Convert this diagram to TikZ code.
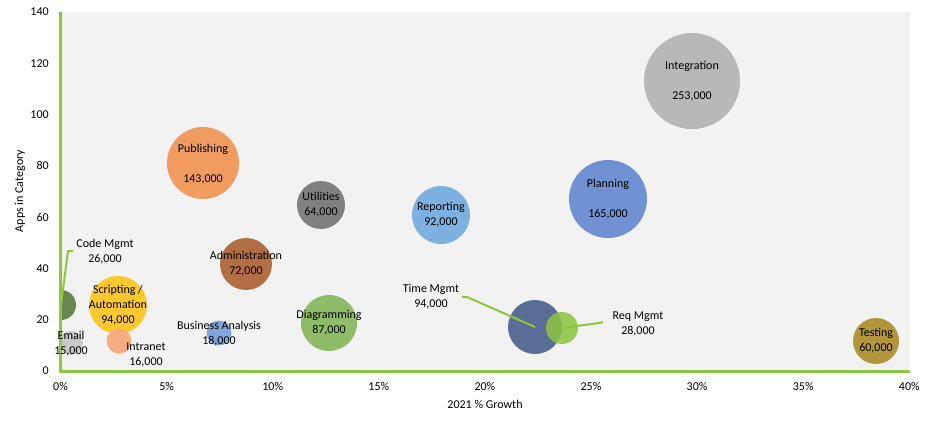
\documentclass[tikz,border=0pt]{standalone}
\usepackage{fontspec}
\setmainfont{Carlito}
\usetikzlibrary{calc}
\definecolor{axgreen}{RGB}{141,198,63}
\definecolor{plotbg}{RGB}{242,242,242}
\definecolor{cInt}{RGB}{184,184,184}
\definecolor{cPlan}{RGB}{113,146,210}
\definecolor{cRep}{RGB}{126,176,224}
\definecolor{cPub}{RGB}{240,155,96}
\definecolor{cUtil}{RGB}{128,128,128}
\definecolor{cAdm}{RGB}{178,110,68}
\definecolor{cDiag}{RGB}{143,188,104}
\definecolor{cBA}{RGB}{134,164,220}
\definecolor{cScr}{RGB}{252,200,48}
\definecolor{cIntr}{RGB}{244,172,128}
\definecolor{cCode}{RGB}{103,134,80}
\definecolor{cEmail}{RGB}{200,200,200}
\definecolor{cTime}{RGB}{88,110,150}
\definecolor{cReq}{RGB}{140,196,64}
\definecolor{cTest}{RGB}{178,150,60}
\newcommand\bub[5]{\node[bubble, minimum size=#4*1.5pt, fill=#5] (#1) at (#2,#3) {};}
\tikzset{
  bubble/.style={circle, inner sep=0pt, draw=none},
  lbl/.style={font=\fontsize{9}{11.25}\selectfont, align=center, inner sep=0pt, text=black},
  tick/.style={font=\fontsize{9}{11.25}\selectfont, inner sep=0pt, text=black},
  axisline/.style={draw=axgreen, line width=2.25pt},
  leader/.style={draw=axgreen, line width=1.5pt}
}
\begin{document}
\begin{tikzpicture}[x=0.75pt,y=-0.75pt]
\useasboundingbox (0,0) rectangle (931,424);
\fill[white] (0,0) rectangle (931,424);
\fill[plotbg] (60,12) rectangle (910,371);
% bubbles
\begin{scope}
\clip (60,12) rectangle (910,371);
\bub{int}{692}{81}{48}{cInt}
\bub{plan}{608}{199}{39}{cPlan}
\bub{rep}{441}{215}{29}{cRep}
\bub{pub}{203}{163}{36}{cPub}
\bub{util}{321}{205}{24}{cUtil}
\bub{adm}{246}{264}{26}{cAdm}
\bub{diag}{329}{323}{28}{cDiag}
\bub{ba}{219}{333}{12.5}{cBA}
\bub{scr}{118}{305}{29}{cScr}
\bub{intr}{119}{341}{12.5}{cIntr}
\bub{code}{61}{305}{15}{cCode}
\bub{email}{71}{343}{12}{cEmail}
\bub{time}{535}{327}{27}{cTime}
\node[bubble, minimum size=32*0.75pt, fill=cReq, fill opacity=0.85] (req) at (562,328) {};
\bub{test}{876}{341}{23}{cTest}
\end{scope}
% axes
\draw[axisline] (60.5,12) -- (60.5,371.5) -- (910,371.5);
% y tick labels
\foreach \v [count=\i from 0] in {0,20,40,60,80,100,120,140}
  \node[tick, anchor=east] (yt\i) at (49,{371-\i*51.29}) {\v};
% x tick labels
\foreach \v [count=\i from 0] in {0,5,10,15,20,25,30,35,40}
  \node[tick] (xt\i) at ({60.5+\i*106.1},386) {\v\%};
% axis titles
\node[tick] (xtitle) at (485,404) {2021 \% Growth};
\node[tick, rotate=90] (ytitle) at (20,191) {Apps in Category};
% labels
\node[lbl] (lint) at (692,81) {Integration\\[11.25pt]253,000};
\node[lbl] (lplan) at (608,199.5) {Planning\\[11.25pt]165,000};
\node[lbl] (lpub) at (203,164) {Publishing\\[11.25pt]143,000};
\node[lbl] (lutil) at (321,204.5) {Utilities\\64,000};
\node[lbl] (lrep) at (441,214.5) {Reporting\\92,000};
\node[lbl] (ladm) at (246,263.5) {Administration\\72,000};
\node[lbl] (ldiag) at (329,322.5) {Diagramming\\87,000};
\node[lbl] (lba) at (219,333.5) {Business Analysis\\18,000};
\node[lbl] (lscr) at (118,305.5) {Scripting /\\Automation\\94,000};
\node[lbl] (lintr) at (146,354.5) {Intranet\\16,000};
\node[lbl] (lemail) at (71,343.5) {Email\\15,000};
\node[lbl] (lcode) at (105,251.5) {Code Mgmt\\26,000};
\node[lbl] (ltime) at (431,297) {Time Mgmt\\94,000};
\node[lbl] (lreq) at (638,324) {Req Mgmt\\28,000};
\node[lbl] (ltest) at (876,340.5) {Testing\\60,000};
% leader lines
\coordinate (codeA) at (68,251);
\coordinate (codeB) at (73,251);
\draw[leader] (code.center) -- (codeA) -- (codeB);
\coordinate (timeA) at (462,297);
\coordinate (timeB) at (467,297);
\draw[leader] (timeA) -- (timeB) -- (time.center);
\coordinate (reqA) at (599,323);
\coordinate (reqB) at (603,322);
\draw[leader] (req.center) -- (reqA) -- (reqB);
\end{tikzpicture}
\end{document}
